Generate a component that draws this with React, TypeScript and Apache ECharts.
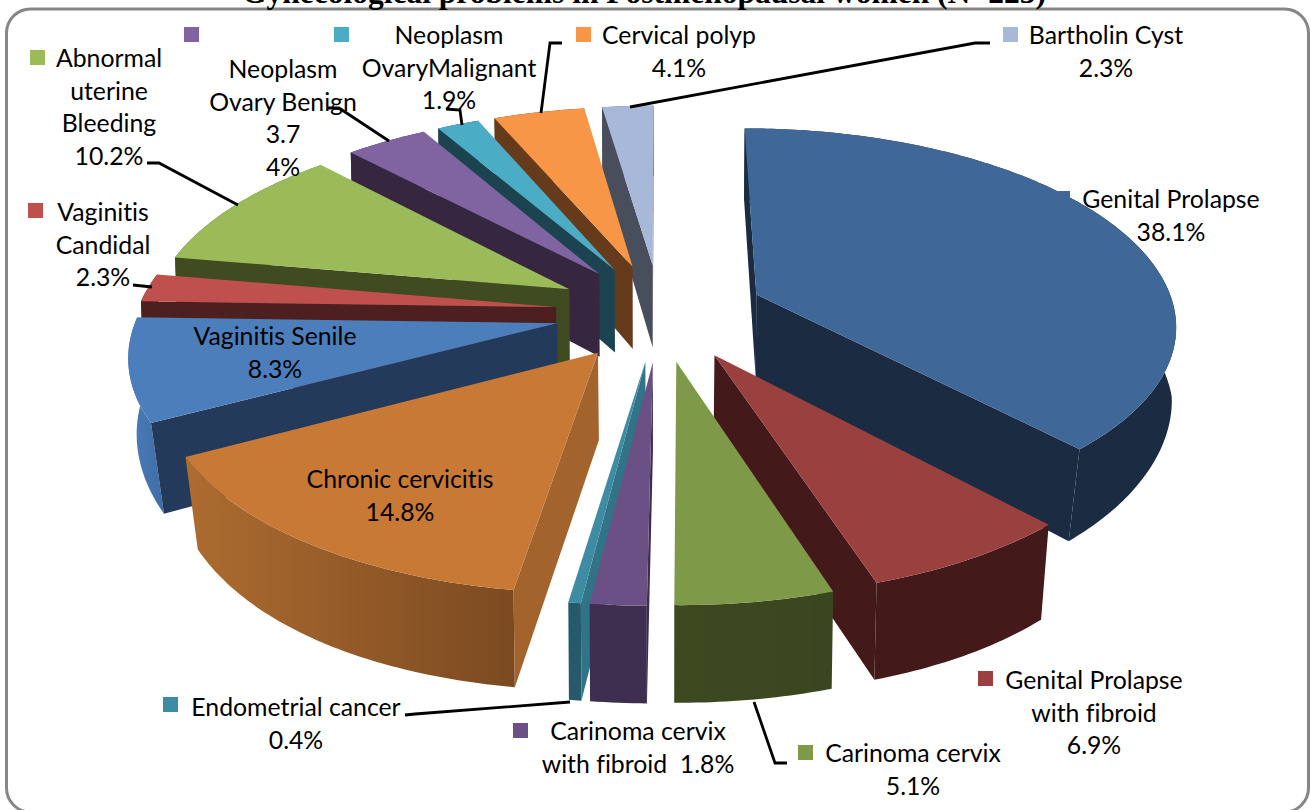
import React, { useEffect, useRef } from "react";
import * as echarts from "echarts";

const title = "Gynecological problems in Postmenopausal women (N=223)";
const categories = [
  "Genital Prolapse", "Genital Prolapse with fibroid", "Carinoma cervix", "Carinoma cervix with fibroid",
  "Endometrial cancer", "Chronic cervicitis", "Vaginitis Senile", "Vaginitis Candidal",
  "Abnormal uterine Bleeding", "Neoplasm Ovary Benign", "Neoplasm OvaryMalignant", "Cervical polyp", "Bartholin Cyst",
];
const values = [38.1, 6.9, 5.1, 1.8, 0.4, 14.8, 8.3, 2.3, 10.2, 3.7, 1.9, 4.1, 2.3];

const topColors = ["#3f6797", "#9a403e", "#7e9a48", "#6a5084", "#3e8ca4", "#c87936", "#4c7ebb", "#bf504d", "#9bbb59", "#8064a2", "#4bacc6", "#f79646", "#a7b8d8"];
const radialColors = ["#1a2b42", "#431a19", "#3d4a20", "#3e2e50", "#317488", "#a3632c", "#243a5a", "#4d1f1f", "#414b22", "#362640", "#1c4450", "#653b1b", "#484e5b"];
const rimLeft = ["#1a2b42", "#431a19", "#3d4a20", "#3e2e50", "#265a6a", "#ad6c30", "#4c7ebb", "#4d1f1f", "#414b22", "#362640", "#1c4450", "#653b1b", "#484e5b"];
const rimRight = ["#1a2b42", "#431a19", "#3a461f", "#3e2e50", "#265a6a", "#7b4a21", "#3f6ca4", "#4d1f1f", "#414b22", "#362640", "#1c4450", "#653b1b", "#484e5b"];

const labelLines: string[][] = [
  ["Genital Prolapse", "38.1%"],
  ["Genital Prolapse", "with fibroid", "6.9%"],
  ["Carinoma cervix", "5.1%"],
  ["Carinoma cervix", "with fibroid  1.8%"],
  ["Endometrial cancer", "0.4%"],
  ["Chronic cervicitis", "14.8%"],
  ["Vaginitis Senile", "8.3%"],
  ["Vaginitis", "Candidal", "2.3%"],
  ["Abnormal", "uterine", "Bleeding", "10.2%"],
  ["Neoplasm", "Ovary Benign", "3.7", "4%"],
  ["Neoplasm", "OvaryMalignant", "1.9%"],
  ["Cervical polyp", "4.1%"],
  ["Bartholin Cyst", "2.3%"],
];
const labelCx = [1171, 1094, 913, 638, 296, 400, 275, 103, 109, 283, 449, 679, 1106];
const labelY0 = [198.5, 679.5, 752.5, 730.5, 706.5, 478.5, 335.5, 211.5, 57.5, 68.5, 34.5, 34.5, 34.5];
const keyX = [1055, 978, 798, 513, 163, 283, 168, 28, 30, 184, 334, 576, 1003];
const keyY = [191, 671, 745, 723, 697, 471, 329, 203, 50, 27, 27, 27, 27];
const leaders: number[][][] = [
  [[147, 163], [159, 163], [238, 205]],
  [[328, 108], [339, 108], [389, 141]],
  [[446, 109], [460, 110], [462, 125]],
  [[562, 43], [550, 43], [541, 113]],
  [[990, 43], [975, 43], [630, 107]],
  [[133, 285], [152, 287]],
  [[405, 715], [415, 714], [570, 702]],
  [[754, 702], [775, 763], [787, 763]],
];

// projection of the tilted pie
const CX = 660, CY = 312, RX = 419, RY = 194, PERSP = 0.14, EXPLODE = 0.25, SHRINK = 0.975;
const project = (u: number, v: number) => {
  const k = 1 / (1 - PERSP * v);
  return [CX + RX * u * k, CY + RY * v * k];
};
const lower = (p: number[], v: number) => {
  const c = Math.min(1.25, Math.max(0, v)) / 1.25;
  const s = 0.994 - 0.02 * Math.sin(Math.PI * c);
  return [CX + (p[0] - CX) * s, CY + (p[1] - CY) * SHRINK + 85 + 16 * v];
};
const total = values.reduce((a, b) => a + b, 0);
const starts: number[] = [];
values.reduce((acc, val, i) => { starts[i] = acc; return acc + val; }, 0);

const sliceGeom = (i: number) => {
  const a0 = (starts[i] / total) * Math.PI * 2;
  const a1 = ((starts[i] + values[i]) / total) * Math.PI * 2;
  const mid = (a0 + a1) / 2;
  const ou = Math.sin(mid) * EXPLODE, ov = -Math.cos(mid) * EXPLODE;
  const top: number[][] = [], bot: number[][] = [];
  const n = Math.max(2, Math.ceil((a1 - a0) / 0.015));
  for (let k = 0; k <= n; k++) {
    const t = a0 + ((a1 - a0) * k) / n;
    const u = ou + Math.sin(t), v = ov - Math.cos(t);
    const p = project(u, v);
    top.push(p);
    bot.push(lower(p, v));
  }
  const apex = project(ou, ov);
  const apexB = lower(apex, ov);
  return { top, bot, apex, apexB };
};
const cross = (a: number[], b: number[], c: number[]) =>
  (b[0] - a[0]) * (c[1] - b[1]) - (b[1] - a[1]) * (c[0] - b[0]);

const drawOrder = values
  .map((_, i) => i)
  .sort((p, q) => {
    const m = (i: number) => Math.cos(((starts[i] + values[i] / 2) / total) * Math.PI * 2);
    return m(q) - m(p);
  });

export default function App() {
  const ref = useRef<HTMLDivElement>(null);
  useEffect(() => {
    document.body.style.margin = "0";
    document.body.style.background = "#ffffff";
    const sheet = document.createElement("style");
    sheet.textContent = "svg text { font-variant-ligatures: none !important; }";
    document.head.appendChild(sheet);
    const chart = echarts.init(ref.current!, undefined, { renderer: "svg" });
    const font = "Lato";
    const graphics: any[] = [];
    graphics.push({
      type: "rect", z: 0, silent: true,
      shape: { x: 6.5, y: 9, width: 1302, height: 803, r: 24 },
      style: { fill: "#ffffff", stroke: "#868686", lineWidth: 3 },
    });
    graphics.push({
      type: "text", z: 100, x: 644, y: -8,
      style: { text: title, fill: "#000", font: "bold 31.5px 'Liberation Serif'", align: "center", verticalAlign: "middle" },
    });
    labelLines.forEach((lines, i) => {
      lines.forEach((line, j) => {
        graphics.push({
          type: "text", z: 100, x: labelCx[i], y: labelY0[i] + j * 32.6,
          style: { text: line, fill: "#000", font: `24.8px ${font}`, align: "center", verticalAlign: "middle" },
        });
      });
      graphics.push({
        type: "rect", z: 99,
        shape: { x: keyX[i], y: keyY[i], width: 15, height: 15 },
        style: { fill: topColors[i] },
      });
    });
    leaders.forEach((pts) => {
      graphics.push({
        type: "polyline", z: 98,
        shape: { points: pts },
        style: { stroke: "#000", lineWidth: 2.8, fill: "none" },
      });
    });
    chart.setOption({
      animation: false,
      backgroundColor: "#ffffff",
      graphic: { elements: graphics },
      series: [
        {
          type: "custom",
          coordinateSystem: "none",
          silent: true,
          data: drawOrder.map((i) => ({ name: categories[i], value: values[i] })),
          renderItem: (params: any) => {
            const i = drawOrder[params.dataIndex];
            const { top, bot, apex, apexB } = sliceGeom(i);
            const children: any[] = [];
            children.push({
              type: "polygon",
              shape: { points: top.concat(bot.slice().reverse()) },
              style: {
                fill: new echarts.graphic.LinearGradient(0, 0, 1, 0, [
                  { offset: 0, color: rimLeft[i] },
                  { offset: 1, color: rimRight[i] },
                ]),
              },
            });
            const last = top.length - 1;
            if (cross(apex, top[0], bot[0]) < 0) {
              children.push({
                type: "polygon",
                shape: { points: [apex, top[0], bot[0], apexB] },
                style: { fill: radialColors[i] },
              });
            }
            if (cross(apex, top[last], bot[last]) > 0) {
              children.push({
                type: "polygon",
                shape: { points: [apex, top[last], bot[last], apexB] },
                style: { fill: radialColors[i] },
              });
            }
            children.push({
              type: "polygon",
              shape: { points: [apex].concat(top) },
              style: { fill: topColors[i] },
            });
            return { type: "group", children };
          },
        },
      ],
    });
    return () => {
      chart.dispose();
      sheet.remove();
    };
  }, []);
  return <div ref={ref} style={{ width: 1311, height: 810 }} />;
}
